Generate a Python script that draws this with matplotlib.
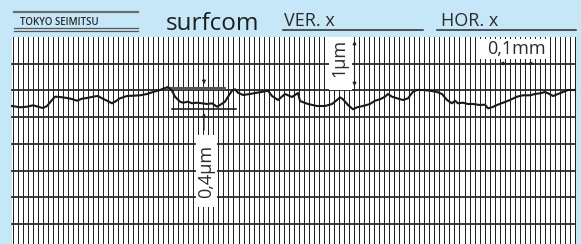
import numpy as np
import matplotlib.pyplot as plt
from matplotlib.patches import Rectangle

plt.rcParams['font.family'] = ['Open Sans', 'DejaVu Sans']

# roughness profile (pixel units, y grows downwards)
prof_x = [12, 20, 27, 33, 38, 43, 47, 52, 55, 60, 67, 72, 77, 82, 87, 93, 98, 102,
          107, 112, 115, 120, 127, 133, 140, 147, 153, 160, 165, 168, 172, 175, 180,
          183, 188, 192, 197, 202, 207, 212, 217, 220, 225, 228, 232, 235, 238, 243,
          250, 257, 263, 268, 272, 278, 285, 292, 298, 300, 308, 317, 325, 332, 337,
          340, 343, 348, 353, 357, 363, 370, 375, 380, 385, 388, 392, 397, 403, 408,
          413, 417, 423, 430, 437, 442, 447, 452, 455, 458, 463, 468, 473, 480, 485,
          488, 492, 497, 503, 510, 517, 523, 530, 535, 540, 545, 548, 553, 558, 563,
          568, 575]
prof_y = [106, 107.3, 106.7, 105.3, 106.7, 108, 106, 100, 96.7, 97, 98, 99, 100.7,
          98.7, 98, 96.7, 96, 98.3, 100.7, 103.3, 101.7, 98.3, 96, 95.7, 95.3, 94, 92,
          90, 88, 87, 90.7, 96.7, 101.7, 102.7, 101.7, 103.3, 102.7, 103.3, 104, 103.3,
          106.7, 105, 101.7, 96.7, 90.7, 89.3, 92.7, 95, 94, 92.7, 91.7, 90.7, 96,
          100, 94, 97, 93, 101, 104, 106, 106, 104, 100, 97.3, 99.3, 105, 109.3, 107.3,
          106, 104, 100.7, 99.3, 96.7, 94, 96.7, 98.3, 100, 98.3, 91.7, 90, 90, 90.7,
          92, 94, 100, 103.3, 100.7, 103.3, 102.7, 104, 104, 105, 104.7, 108.3, 107.3,
          105, 102.7, 100, 96.7, 95.3, 95.3, 94, 93.3, 92, 93.3, 96, 94, 92, 90, 90]

# chart paper
h_lines = [63.5, 90.3, 117, 144, 170.5, 197.3, 224]
n_vdiv = 112
grid_left, grid_right, grid_top = 12, 575, 37

# valley depth marks
peak_line = (168, 224, 88)
valley_line = (172, 236, 108.7)

bg = '#c6e7f8'
ink = '#2b2b2b'

fig = plt.figure(figsize=(5.81, 2.44), dpi=100, facecolor=bg)
ax = fig.add_axes([0, 0, 1, 1])
ax.set_xlim(0, 581)
ax.set_ylim(244, 0)
ax.axis('off')

# paper
ax.add_patch(Rectangle((grid_left, grid_top), grid_right - grid_left, 244 - grid_top,
                       facecolor='white', edgecolor='none', zorder=0))
for x in np.linspace(grid_left + 0.5, grid_right, n_vdiv + 1):
    ax.plot([x, x], [grid_top, 244], color='#1a1a1a', lw=0.7, zorder=1)
for y in h_lines:
    ax.plot([grid_left, grid_right], [y, y], color='#2a2a2a', lw=1.3, zorder=2)

# header
ax.plot([14, 138], [12, 12], color='#6e6e6e', lw=1.6)
ax.plot([14, 138], [28.2, 28.2], color='#555555', lw=0.9)
ax.plot([14, 138], [30.6, 30.6], color='#555555', lw=0.9)
ax.text(20, 25, 'TOKYO SEIMITSU', fontsize=7, fontweight='semibold', color=ink)
ax.text(166, 29.5, 'surfcom', fontsize=17.5, color='#1e1e1e')
ax.text(284, 26.5, 'VER. x', fontsize=13, color=ink)
ax.plot([283, 423], [30, 30], color=ink, lw=1.1)
ax.text(441, 26.5, 'HOR. x', fontsize=13, color=ink)
ax.plot([437, 576], [30, 30], color=ink, lw=1.1)

# profile and depth marks
ax.plot(peak_line[:2], [peak_line[2]] * 2, color='#555555', lw=2.2, zorder=4)
ax.plot(valley_line[:2], [valley_line[2]] * 2, color='#222222', lw=1.2, zorder=4)
ax.plot(prof_x, prof_y, color='#1a1a1a', lw=1.5, zorder=5)

arrow = dict(arrowstyle='-|>', color='#222222', lw=0.8, mutation_scale=5)
ax.annotate('', xy=(204, 87), xytext=(204, 77), arrowprops=arrow, zorder=6)
ax.annotate('', xy=(204, 110), xytext=(204, 133), arrowprops=arrow, zorder=6)

# 0,4 um label
ax.add_patch(Rectangle((196, 135), 21, 72, facecolor='white', edgecolor='none', zorder=6))
ax.text(206.5, 171, '0,4μm', rotation=90, fontsize=13, color=ink,
        ha='center', va='center', zorder=7)

# 1 um scale
ax.add_patch(Rectangle((329, grid_top), 23, 53, facecolor='white', edgecolor='none', zorder=6))
ax.text(339.5, 58, '1μm', rotation=90, fontsize=13, color=ink,
        ha='center', va='center', zorder=7)
arrow2 = dict(arrowstyle='<|-|>', color='#222222', lw=0.8, mutation_scale=5)
ax.annotate('', xy=(354.5, 38), xytext=(354.5, 89), arrowprops=arrow2, zorder=7)

# 0,1 mm scale
ax.add_patch(Rectangle((480, 39), 70, 20, facecolor='white', edgecolor='none', zorder=6))
ax.text(516, 49.5, '0,1mm', fontsize=13, color=ink, ha='center', va='center', zorder=7)
ax.annotate('', xy=(497, 63.5), xytext=(537, 63.5), arrowprops=arrow2, zorder=7)

fig.savefig('out.png', dpi=100, facecolor=bg)
